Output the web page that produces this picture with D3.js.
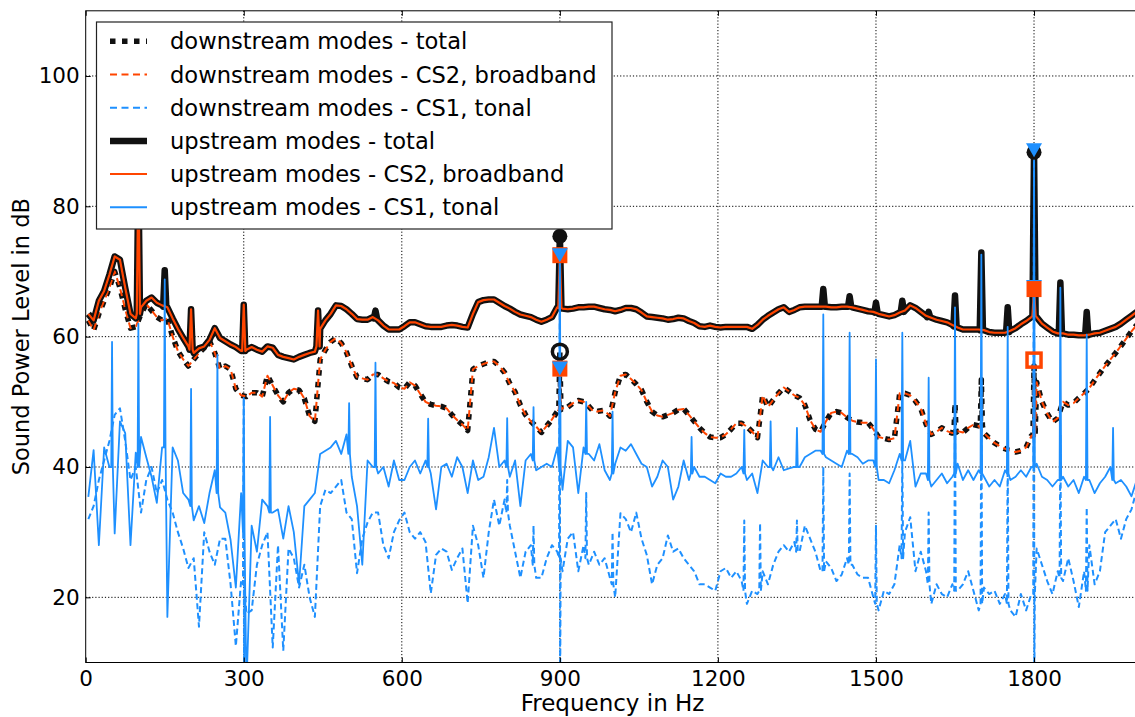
<!DOCTYPE html>
<html><head><meta charset="utf-8">
<script src="https://cdn.jsdelivr.net/npm/d3@7"></script>
<style>body{margin:0;background:#fff}svg{display:block;font-family:"DejaVu Sans",sans-serif}</style>
</head><body><svg id="c" width="1135" height="717"></svg>
<script>
// ---------- data (Hz grid 5..1995 step 10, values in dB) ----------
const fGrid = d3.range(5, 2000, 10);
const xTicks = [0, 300, 600, 900, 1200, 1500, 1800];
const yTicks = [20, 40, 60, 80, 100];
const legendLabels = ["downstream modes - total", "downstream modes - CS2, broadband", "downstream modes - CS1, tonal",
  "upstream modes - total", "upstream modes - CS2, broadband", "upstream modes - CS1, tonal"];

// upstream broadband level (shared by total and CS2 away from tones)
const upstreamBase = [
  63.5, 62.5, 65.5, 67, 69.5, 72.3, 71.8, 67.5, 63.5, 62.8,
  64.5, 65.5, 66, 65.2, 64.8, 64.5, 62.8, 61.2, 59.8, 58.5,
  57.5, 58.2, 58.5, 59.5, 61.3, 59.8, 59.3, 58.8, 58.4, 57.8,
  58, 58.4, 58, 57.7, 58.5, 58.3, 57.2, 56.9, 56.7, 56.5,
  56.9, 57.2, 57.5, 57.7, 61.2, 62.5, 63.5, 64.8, 64.7, 64.2,
  63.5, 62.7, 62.6, 62.6, 63, 62.5, 61.7, 61.1, 61.1, 61.1,
  61.6, 62.2, 62.2, 61.9, 61.6, 61.5, 61.5, 61.5, 61.7, 61.8,
  61.7, 61.5, 61.4, 63.5, 65.3, 65.6, 65.7, 65.7, 65.2, 64.7,
  64.3, 63.8, 63.4, 63.2, 63, 62.6, 62.3, 62.6, 63, 64.5,
  64.3, 64.2, 64.3, 64.5, 64.5, 64.6, 64.6, 64.4, 64.2, 64.1,
  63.9, 64.1, 64.4, 64.4, 64.2, 63.7, 63.1, 63, 62.9, 62.8,
  62.6, 62.7, 62.9, 62.8, 62.4, 62.1, 61.6, 61.5, 61.7, 61.5,
  61.4, 61.5, 61.5, 61.5, 61.5, 61.5, 61.2, 61.8, 62.6, 63.2,
  63.7, 64.2, 64.5, 63.8, 64.1, 64.5, 64.6, 64.6, 64.6, 64.6,
  64.6, 64.5, 64.5, 64.6, 64.6, 64.5, 64.3, 64.1, 63.9, 63.8,
  63.5, 63.3, 63.1, 63.3, 63.7, 64, 64.8, 64.4, 63.8, 63.2,
  62.9, 62.6, 62.4, 62.2, 61.8, 61.4, 61.1, 61.1, 61.1, 61.1,
  61, 60.7, 60.6, 60.6, 60.6, 60.9, 61.3, 61.9, 62.4, 63,
  63, 62, 61.4, 60.8, 60.5, 60.5, 60.3, 60.3, 60.2, 60.2,
  60.3, 60.5, 60.6, 60.9, 61.2, 61.5, 62, 62.6, 63.2, 63.8];

// downstream broadband level (shared by total and CS2 away from tones)
const downstreamBase = [
  62.5, 61, 63.5, 65.5, 67.5, 70, 67.5, 64.2, 61.3, 61.5,
  63.5, 65, 64, 63, 62.5, 62.8, 60, 57.8, 56.5, 55.5,
  56.5, 57.5, 58.3, 59.3, 57.5, 55, 55.5, 55, 52, 51,
  50.8, 51.4, 51.4, 50.8, 54, 52.5, 51, 50, 51.4, 52,
  51.8, 50.5, 47.8, 47, 56.5, 58, 59.2, 59.8, 59, 57.6,
  55.5, 53.8, 53.6, 53.4, 54.2, 54.2, 53.6, 53.1, 52.9, 52.2,
  52, 53, 52.5, 51.2, 50, 49.6, 49.4, 49.3, 49, 48,
  47.2, 46.5, 45.6, 55, 55.5, 55.8, 56.1, 56.2, 55.5, 54.5,
  52.8, 51.5, 49.5, 48, 47, 46.2, 45.3, 46.3, 47.3, 48.5,
  49, 49.2, 49.8, 50.2, 50, 49.3, 48.4, 48.6, 48.7, 47.8,
  51.5, 54, 54.2, 53.5, 52.7, 51.8, 50, 48.5, 47.9, 47.7,
  48, 48.3, 48.8, 48.9, 48, 47, 46, 45.2, 44.6, 44.5,
  44.5, 45, 45.8, 46.7, 46.7, 46.2, 45.4, 44.5, 51, 49.2,
  50.3, 51.3, 52.2, 51.6, 51, 50.6, 49.5, 47.2, 45.8, 45.4,
  47, 48.3, 48.5, 48.3, 47.6, 47.1, 46.9, 46.8, 46.8, 45.8,
  44.6, 44.4, 44.2, 44.4, 51.3, 51.3, 51, 50.1, 49, 46.6,
  45, 45.4, 46, 45.5, 45.2, 45.5, 45.3, 46, 46.5, 46.3,
  45.2, 44.4, 43.7, 43.2, 42.8, 42.5, 42.3, 42.5, 43, 44.8,
  53, 50, 48.2, 46.9, 47.5, 50, 49.5, 49.8, 50.6, 51.3,
  52.1, 53.3, 54.4, 55.5, 56.5, 57.5, 58.6, 59.7, 60.8, 61.8];

// upstream CS1 tonal, between harmonics
const upstreamCS1 = [
  35.4, 42.6, 28, 43, 40, 29.8, 47, 45.2, 28, 42.2,
  44.6, 41.5, 38.5, 34.5, 43, 17, 43, 41, 36, 35,
  31.8, 34, 31.4, 36, 39.5, 33.8, 33, 28.8, 21.5, 36,
  6, 31, 27, 35, 34, 33, 33.5, 29, 34, 30,
  22, 34, 35, 36, 42, 42.5, 43, 44, 42, 45,
  38.5, 34, 25, 41, 40, 39, 40, 37, 41, 38,
  38, 40, 41, 39, 41, 39, 33.5, 40, 40.5, 38.5,
  41.5, 40, 36, 41, 38, 38.5, 41.5, 46, 40, 41,
  38.5, 41, 34, 41, 42, 39.5, 40, 40.5, 40, 43,
  36.5, 44, 43, 36, 43, 42, 41, 43.5, 39.5, 38,
  40.5, 43, 42.5, 43.5, 42, 40.5, 40, 37, 38.5, 41,
  40, 35, 37, 41, 38, 40, 38.5, 38.5, 38, 37.5,
  39, 38.5, 38.5, 39, 40, 38, 39, 36, 41, 40,
  39.5, 41.5, 39.5, 39.8, 40, 40, 41.5, 42, 42.5, 42.5,
  41.5, 41, 40.5, 40, 42.5, 42, 41.5, 40.5, 41, 41,
  38, 38, 37.5, 39.5, 42, 41, 44, 37, 39, 39,
  37, 38, 39, 37.5, 38.5, 40.5, 38, 39.5, 38, 39.5,
  38.5, 37, 38, 37, 39.5, 38, 38.5, 39.5, 38.5, 40,
  40.5, 38.5, 38, 37, 38, 38.5, 37, 38, 36, 38.5,
  38, 36, 37.5, 38.5, 40, 37.5, 38, 37, 35.5, 38];

// downstream CS1 tonal, between harmonics
const downstreamCS1 = [
  32, 34, 38, 41, 44, 48, 49, 44, 38, 40,
  33, 38, 40, 36, 38, 35, 33, 30, 27.5, 24.5,
  26, 15.5, 30, 27, 25, 29, 29, 22, 12.5, 22.6,
  17.5, 18, 25, 28, 30, 12.3, 28, 11.8, 27.5, 26,
  21.5, 25, 20, 17, 34, 36.5, 36, 37, 38, 33,
  32, 23.7, 29, 31.5, 33, 33, 28, 26, 30, 31.8,
  33, 30, 29, 30, 28.5, 20.6, 26.5, 27.5, 27, 24.2,
  26, 27.5, 19.1, 31, 28, 23, 30, 35, 31, 35,
  31, 27, 23, 27, 28, 23, 23, 26, 28, 27,
  24, 29, 30, 24, 28, 25, 27, 25, 26, 23,
  20, 32.9, 32, 30, 33, 29, 26.5, 22, 25, 26,
  29.5, 27, 27.5, 26, 25, 24, 22, 22, 21.5, 21,
  24, 24.5, 23, 24, 22.5, 19, 21, 20.5, 24, 22,
  25, 27, 28, 27, 28.5, 27, 31, 29, 27, 24,
  25.5, 24.5, 22.5, 23.5, 26, 25, 23.5, 23, 23, 20,
  18, 21, 20.5, 22, 28, 30, 32.3, 24, 27, 24,
  19, 22, 20.5, 20, 22, 21, 22, 24, 21, 18,
  21.5, 20.5, 21, 19, 20.5, 18, 17, 20.5, 18, 20.5,
  27.5, 25, 22.5, 20.5, 24, 22.5, 26, 22.5, 18.5, 24,
  28, 22, 24, 30, 31, 32, 29, 32, 33.5, 36.5];

// narrow peaks: [frequency, peak dB, level beside the peak, (dip after the peak)]
const upstreamTotalPeaks = [[100, 86, 63.5], [150, 70.2, 64.6], [200, 64.2, 58], [300, 64.9, 57.8], [441, 64, 58.5],
  [550, 64, 62.8], [900, 75.5, 64.4], [1400, 67.3, 64.6], [1450, 66.2, 64.6], [1500, 65.2, 63.7], [1550, 65.5, 63.8],
  [1600, 63.8, 63], [1650, 66.3, 61.6], [1700, 72.9, 61], [1750, 64.5, 60.7], [1800, 88.5, 63.2], [1850, 68.3, 60.5], [1900, 63.8, 60.2]];
const upstreamCS2Peaks = [[100, 86, 63.5], [200, 64.2, 58], [300, 64.9, 57.8], [441, 64, 58.5], [900, 72.2, 64.4], [1800, 67.3, 63.2]];
const upstreamCS1Peaks = [[50, 59.2, 40], [100, 62, 40], [150, 68.8, 43], [200, 52, 34], [250, 57.2, 36], [300, 50.6, 30],
  [350, 47.7, 33], [500, 49.8, 42], [550, 56, 40], [650, 47.4, 40], [800, 47.5, 40], [850, 49.2, 41], [900, 72.2, 40],
  [950, 50, 42], [1000, 48.5, 39], [1150, 44.6, 39], [1250, 45.7, 39], [1300, 47, 40], [1350, 46, 40], [1400, 63.4, 42],
  [1450, 60.6, 42], [1500, 56.5, 40], [1550, 60.6, 41], [1600, 53.7, 38], [1650, 64.5, 39], [1700, 72.6, 39],
  [1750, 61.5, 39], [1800, 88.6, 40], [1850, 67.5, 38], [1900, 60.3, 38], [1950, 46, 38]];
const downstreamTotalPeaks = [[900, 57.7, 48.8], [1650, 49.8, 45.3], [1700, 53.4, 46.3], [1800, 55.5, 44.8]];
const downstreamCS2Peaks = [[900, 55.1, 48.8], [1800, 56.4, 44.8]];
const downstreamCS1Peaks = [[300, 50.6, 22, 5], [800, 38, 33], [850, 31, 25], [900, 72.2, 26, 5], [950, 36, 26], [1000, 30, 22],
  [1250, 31.8, 21], [1280, 31.4, 21], [1350, 31.8, 27], [1400, 40, 24], [1450, 39, 25], [1500, 31, 19], [1550, 42, 26],
  [1600, 33, 22], [1650, 49, 21], [1700, 53, 19], [1750, 42, 19], [1800, 88.6, 20.5, 5], [1850, 45, 23], [1900, 33.8, 21]];

// highlighted tone levels
const upTotalMarks = [[900, 75.4], [1800, 88.3]];
const downTotalMarks = [[900, 57.7]];
const cs2Marks = [[900, 72.5], [900, 55.1], [1800, 67.3]];
const cs2OpenMarks = [[1800, 56.4]];
const cs1Marks = [[900, 72.5], [900, 55.1], [1800, 88.6]];
const cs1MarksBehind = [[1800, 67.6]];

// ---------- drawing ----------
const BLACK = "#111", ORANGE = "#ff4500", BLUE = "#1e90ff";
const svg = d3.select("#c");
const L = 85.7, R = 1139.4, T = 10.8, B = 662.5;
const x = d3.scaleLinear().domain([0, 2000]).range([L, R]);
const y = d3.scaleLinear().domain([10, 110]).range([B, T]);

svg.append("defs").append("clipPath").attr("id", "clip")
  .append("rect").attr("x", L).attr("y", T).attr("width", R - L).attr("height", B - T);

// grid
const grid = svg.append("g").attr("stroke", "#000").attr("stroke-width", 1).attr("stroke-dasharray", "1.2,2");
grid.selectAll(".gx").data(xTicks.filter(d => d > 0)).enter().append("line")
  .attr("x1", d => x(d)).attr("x2", d => x(d)).attr("y1", T).attr("y2", B);
grid.selectAll(".gy").data(yTicks).enter().append("line")
  .attr("y1", d => y(d)).attr("y2", d => y(d)).attr("x1", L).attr("x2", R);

function build(base, peaks, hw) {
  const pts = fGrid.map((f, i) => [f, base[i]]);
  for (const p of peaks) {
    const [f, peak, side, dip] = p;
    pts.push([f - hw, side], [f, peak]);
    if (dip !== undefined) pts.push([f + 0.5, dip]);
    pts.push([f + hw, side]);
  }
  return pts.sort((a, b) => a[0] - b[0]);
}
const line = d3.line().x(d => x(d[0])).y(d => y(d[1]));
const plot = svg.append("g").attr("clip-path", "url(#clip)").attr("fill", "none");

function draw(pts, color, width, dash) {
  plot.append("path").datum(pts).attr("d", line)
    .attr("stroke", color).attr("stroke-width", width)
    .attr("stroke-dasharray", dash || null)
    .attr("stroke-linejoin", "round").attr("stroke-linecap", "butt");
}
draw(build(downstreamBase, downstreamTotalPeaks, 2), BLACK, 5.5, "5.5,6.5");
draw(build(downstreamBase, downstreamCS2Peaks, 2), ORANGE, 2, "7,4.5");
draw(build(upstreamBase, upstreamTotalPeaks, 3), BLACK, 6.5);
draw(build(upstreamBase, upstreamCS2Peaks, 3), ORANGE, 2.2);
draw(build(upstreamCS1, upstreamCS1Peaks, 1.5), BLUE, 1.8);
draw(build(downstreamCS1, downstreamCS1Peaks, 1.5), BLUE, 2, "6,3.5");

// markers
const tri = "M-8,-7L8,-7L0,7Z";
const mk = svg.append("g");
function tris(data) {
  mk.selectAll(null).data(data).enter().append("path").attr("d", tri)
    .attr("transform", d => `translate(${x(d[0])},${y(d[1])})`).attr("fill", BLUE);
}
mk.selectAll(null).data(upTotalMarks).enter().append("circle")
  .attr("cx", d => x(d[0])).attr("cy", d => y(d[1])).attr("r", 7.5).attr("fill", BLACK);
mk.selectAll(null).data(downTotalMarks).enter().append("circle")
  .attr("cx", d => x(d[0])).attr("cy", d => y(d[1])).attr("r", 7.5).attr("fill", "none")
  .attr("stroke", BLACK).attr("stroke-width", 3.5);
tris(cs1MarksBehind);
mk.selectAll(null).data(cs2Marks).enter().append("rect")
  .attr("x", d => x(d[0]) - 7.5).attr("y", d => y(d[1]) - 8).attr("width", 15).attr("height", 16).attr("fill", ORANGE);
mk.selectAll(null).data(cs2OpenMarks).enter().append("rect")
  .attr("x", d => x(d[0]) - 7).attr("y", d => y(d[1]) - 7).attr("width", 14).attr("height", 14)
  .attr("fill", "none").attr("stroke", ORANGE).attr("stroke-width", 3.5);
tris(cs1Marks);

// frame
svg.append("rect").attr("x", L).attr("y", T).attr("width", R - L).attr("height", B - T)
  .attr("fill", "none").attr("stroke", "#000").attr("stroke-width", 1);

// axes
const ax = svg.append("g").attr("transform", `translate(0,${B})`)
  .call(d3.axisBottom(x).tickValues(xTicks).tickFormat(d3.format("d")).tickSizeInner(-5).tickSizeOuter(0).tickPadding(8));
const ay = svg.append("g").attr("transform", `translate(${L},0)`)
  .call(d3.axisLeft(y).tickValues(yTicks).tickFormat(d3.format("d")).tickSizeInner(-5).tickSizeOuter(0).tickPadding(6));
const at = svg.append("g").attr("transform", `translate(0,${T})`)
  .call(d3.axisTop(x).tickValues(xTicks).tickFormat("").tickSizeInner(-5).tickSizeOuter(0));
[ax, ay, at].forEach(g => {
  g.select(".domain").remove();
  g.selectAll("line").attr("stroke", "#000");
  g.selectAll("text").attr("font-size", 21.5).attr("font-family", "DejaVu Sans").attr("fill", "#000");
});

svg.append("text").attr("x", (L + R) / 2).attr("y", 711).attr("text-anchor", "middle")
  .attr("font-size", 23).attr("fill", "#000").text("Frequency in Hz");
svg.append("text").attr("transform", `translate(29,${(T + B) / 2}) rotate(-90)`).attr("text-anchor", "middle")
  .attr("font-size", 22.5).attr("fill", "#000").text("Sound Power Level in dB");

// legend
const lg = svg.append("g");
lg.append("rect").attr("x", 96.5).attr("y", 22).attr("width", 515.5).attr("height", 207)
  .attr("fill", "#fff").attr("stroke", "#222").attr("stroke-width", 1.2);
const legendStyles = [[BLACK, 5.5, "5.5,6.5"], [ORANGE, 2, "7,4.5"], [BLUE, 2, "7,4.5"], [BLACK, 6.5, null], [ORANGE, 2, null], [BLUE, 2, null]];
legendLabels.forEach((t, i) => {
  const cy = 41.3 + i * 33.2;
  const [c, w, d] = legendStyles[i];
  lg.append("line").attr("x1", 110).attr("x2", 147).attr("y1", cy).attr("y2", cy)
    .attr("stroke", c).attr("stroke-width", w).attr("stroke-dasharray", d);
  lg.append("text").attr("x", 170).attr("y", cy + 8).attr("font-size", 22.6).attr("fill", "#000").text(t);
});
</script></body></html>
